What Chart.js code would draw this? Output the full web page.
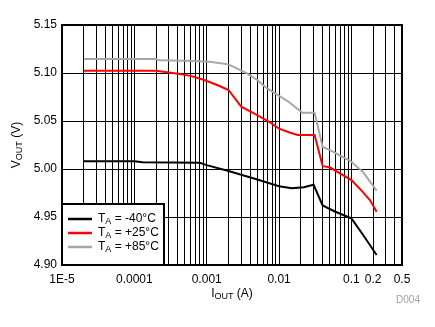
<!DOCTYPE html>
<html>
<head>
<meta charset="utf-8">
<script src="https://cdn.jsdelivr.net/npm/chart.js@4/dist/chart.umd.min.js"></script>
<style>
  html, body { margin: 0; padding: 0; background: #fff; }
  canvas { display: block; }
</style>
</head>
<body>
<canvas id="myChart" width="435" height="327"></canvas>
<script>
// Output voltage vs. load current, three ambient temperatures
const tempLabels = ['-40°C', '+25°C', '+85°C'];

const iCold = [2e-5, 1e-4, 1.3e-4, 8e-4, 0.001, 0.002, 0.005, 0.01, 0.015, 0.022, 0.03, 0.04, 0.06, 0.1, 0.146, 0.223];
const vCold = [5.008, 5.008, 5.007, 5.0065, 5.004, 4.998, 4.989, 4.982, 4.980, 4.981, 4.9836, 4.962, 4.9555, 4.9486, 4.931, 4.9104];

const iRoom = [2e-5, 2e-4, 3e-4, 4e-4, 6e-4, 9e-4, 0.0014, 0.002, 0.003, 0.0045, 0.007, 0.01, 0.014, 0.018, 0.031, 0.04, 0.05, 0.1, 0.14, 0.18, 0.223];
const vRoom = [5.1024, 5.1024, 5.1005, 5.0993, 5.097, 5.093, 5.0875, 5.0823, 5.065, 5.058, 5.050, 5.042, 5.038, 5.0354, 5.0354, 5.003, 5.0018, 4.9885, 4.977, 4.9677, 4.9555];

const iHot = [2e-5, 2e-4, 2.2e-4, 5e-4, 0.0011, 0.002, 0.0036, 0.005, 0.0065, 0.0088, 0.0135, 0.021, 0.031, 0.04, 0.05, 0.09, 0.1, 0.146, 0.223];
const vHot = [5.1146, 5.1146, 5.1132, 5.1128, 5.1118, 5.109, 5.0997, 5.0927, 5.0851, 5.0788, 5.0701, 5.0586, 5.0586, 5.023, 5.020, 5.0094, 5.0076, 4.9965, 4.9774];

const xTickValues = [1e-5, 1e-4, 1e-3, 0.01, 0.1, 0.2, 0.5];
const xTickLabels = ['1E-5', '0.0001', '0.001', '0.01', '0.1', '0.2', '0.5'];
const yTickValues = [4.90, 4.95, 5.00, 5.05, 5.10, 5.15];

const lineColors = ['#000000', '#ff0000', '#a6a6a6'];
const FONT = 'Arial, "Liberation Sans", sans-serif';

function toPoints(xs, ys) {
    return xs.map((x, i) => ({ x: x, y: ys[i] }));
}

// draws text made of normal and subscript pieces, centred on x
function drawParts(c, parts, x, y, size, align) {
    const subSize = Math.round(size * 0.72);
    let w = 0;
    parts.forEach(p => {
        c.font = (p.sub ? subSize : size) + 'px ' + FONT;
        p.w = c.measureText(p.t).width;
        w += p.w;
    });
    let cx = align === 'left' ? x : x - w / 2;
    parts.forEach(p => {
        c.font = (p.sub ? subSize : size) + 'px ' + FONT;
        c.fillText(p.t, cx, p.sub ? y + 3 : y);
        cx += p.w;
    });
}

const framePlugin = {
    id: 'frame',
    afterDraw(chart) {
        const c = chart.ctx;
        const a = chart.chartArea;
        c.save();
        c.strokeStyle = '#000';
        c.lineWidth = 2;
        c.strokeRect(a.left, a.top, a.right - a.left, a.bottom - a.top);

        // legend box, bottom-left inside the plot
        const bx = a.left, by = a.bottom - 61, bw = 102, bh = 61;
        c.fillStyle = '#fff';
        c.fillRect(bx, by, bw, bh);
        c.strokeRect(bx, by, bw, bh);
        c.textBaseline = 'middle';
        chart.data.datasets.forEach((ds, i) => {
            const ly = by + 15 + i * 14;
            c.strokeStyle = ds.borderColor;
            c.lineWidth = 2.5;
            c.beginPath();
            c.moveTo(bx + 6, ly);
            c.lineTo(bx + 30, ly);
            c.stroke();
            c.fillStyle = '#000';
            drawParts(c, [{ t: 'T' }, { t: 'A', sub: true }, { t: ' = ' + tempLabels[i] }], bx + 36, ly, 12, 'left');
        });

        // axis titles
        c.fillStyle = '#000';
        c.textBaseline = 'middle';
        drawParts(c, [{ t: 'I' }, { t: 'OUT', sub: true }, { t: ' (A)' }], (a.left + a.right) / 2, 294, 12);
        c.save();
        c.translate(17, (a.top + a.bottom) / 2);
        c.rotate(-Math.PI / 2);
        drawParts(c, [{ t: 'V' }, { t: 'OUT', sub: true }, { t: ' (V)' }], 0, 0, 12);
        c.restore();

        c.fillStyle = '#a0a0a0';
        c.font = '10px ' + FONT;
        c.textAlign = 'center';
        c.fillText('D004', 408, 300);
        c.restore();
    }
};

const ctx = document.getElementById('myChart').getContext('2d');

const chart = new Chart(ctx, {
    type: 'line',
    data: {
        datasets: [
            { label: 'TA = ' + tempLabels[0], data: toPoints(iCold, vCold) },
            { label: 'TA = ' + tempLabels[1], data: toPoints(iRoom, vRoom) },
            { label: 'TA = ' + tempLabels[2], data: toPoints(iHot, vHot) }
        ].map((ds, i) => Object.assign(ds, {
            borderColor: lineColors[i],
            backgroundColor: lineColors[i],
            borderWidth: 2,
            pointRadius: 0,
            tension: 0,
            fill: false
        }))
    },
    options: {
        responsive: false,
        animation: false,
        devicePixelRatio: 1,
        layout: { padding: { top: 25, right: 33, left: 0, bottom: 0 } },
        plugins: {
            legend: { display: false },
            tooltip: { enabled: false }
        },
        scales: {
            x: {
                type: 'logarithmic',
                min: 1e-5,
                max: 0.5,
                afterBuildTicks(scale) {
                    const ticks = [];
                    for (let d = -5; d <= -1; d++) {
                        for (let k = 1; k <= 9; k++) {
                            const v = Number((k * Math.pow(10, d)).toPrecision(6));
                            if (v <= 0.5 + 1e-9) ticks.push({ value: v });
                        }
                    }
                    scale.ticks = ticks;
                },
                afterFit(scale) { scale.height = 62; },
                ticks: {
                    autoSkip: false,
                    maxRotation: 0,
                    padding: 7,
                    color: '#000',
                    font: { family: FONT, size: 12 },
                    callback(value) {
                        const idx = xTickValues.findIndex(t => Math.abs(t - value) / t < 1e-6);
                        return idx >= 0 ? xTickLabels[idx] : '';
                    }
                },
                grid: { color: '#000', lineWidth: 1, drawTicks: false },
                border: { display: false }
            },
            y: {
                min: yTickValues[0],
                max: yTickValues[yTickValues.length - 1],
                afterBuildTicks(scale) {
                    scale.ticks = yTickValues.map(v => ({ value: v }));
                },
                afterFit(scale) { scale.width = 62; },
                ticks: {
                    padding: 5,
                    color: '#000',
                    font: { family: FONT, size: 12 },
                    callback: v => v.toFixed(2)
                },
                grid: { color: '#000', lineWidth: 1, drawTicks: false },
                border: { display: false }
            }
        }
    },
    plugins: [framePlugin]
});
</script>
</body>
</html>
